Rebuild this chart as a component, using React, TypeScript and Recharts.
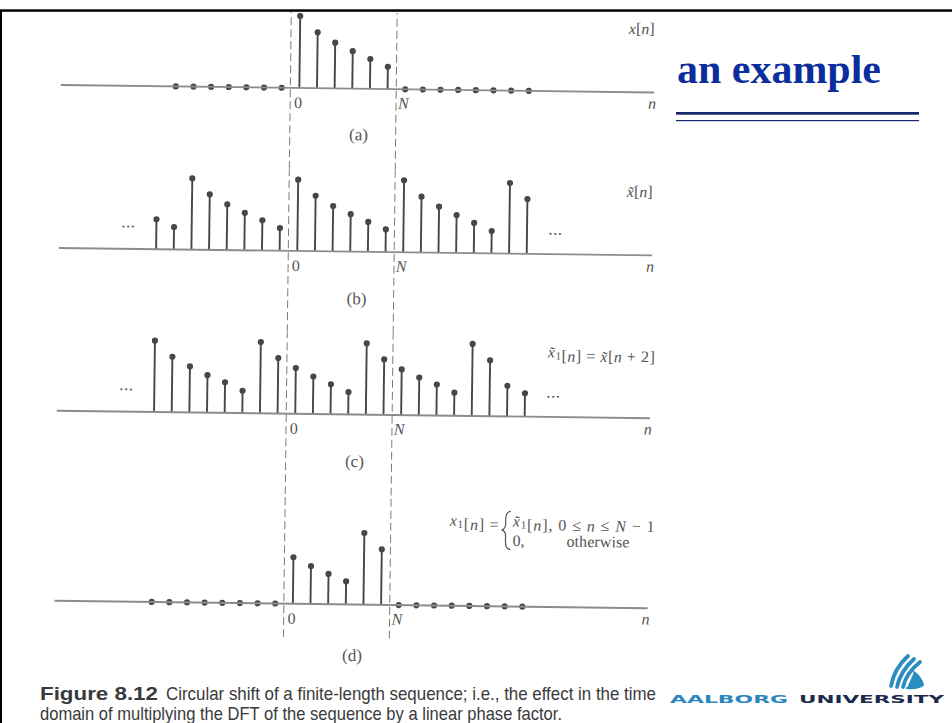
import React from "react";
import { BarChart, Bar, XAxis, YAxis, ReferenceLine } from "recharts";

// sample index n, one band per sample
const nAxis = [
  -13, -12, -11, -10, -9, -8, -7, -6, -5, -4, -3, -2, -1, 0, 1, 2, 3, 4, 5, 6,
  7, 8, 9, 10, 11, 12, 13, 14, 15, 16, 17, 18, 19, 20,
];

// (a) x[n], drawn from n = -7 to 13
const aStart = -7;
const aValues = [0, 0, 0, 0, 0, 0, 0, 10, 7.75, 6.35, 5.2, 4.15, 3.1, 0, 0, 0, 0, 0, 0, 0, 0];

// (b) periodic x~[n], n = -8 to 13
const bStart = -8;
const bValues = [
  4.15, 3.1, 9.9, 7.7, 6.35, 5.2, 4.2, 3.15, 9.9, 7.7, 6.3, 5.2, 4.15, 3.15, 10, 7.75, 6.4,
  5.25, 4.2, 3.1, 9.8, 7.6,
];

// (c) x~1[n] = x~[n+2], n = -8 to 13
const cStart = -8;
const cValues = [
  9.9, 7.7, 6.4, 5.2, 4.25, 3.1, 9.9, 7.7, 6.35, 5.2, 4.15, 3.1, 9.9, 7.7, 6.35, 5.25, 4.3,
  3.2, 10, 7.75, 4.25, 3.25,
];

// (d) x1[n], n = -8 to 13
const dStart = -8;
const dValues = [0, 0, 0, 0, 0, 0, 0, 0, 6.45, 5.25, 4.2, 3.2, 9.95, 7.7, 0, 0, 0, 0, 0, 0, 0, 0];

const STEM = "#474747";
const AXIS = "#8c8c8c";
const DASH = "#7a7a7a";
const TEXT = "#555";
const SERIF = "'Liberation Serif', 'Times New Roman', serif";

const STEP = 17.65; // px per sample
const N0 = 296; // centre of n = 0
const PX_PER_UNIT = 7.2;
const PLOT_RIGHT = 651;
const CHART_W = 660;

function Stem(props: any) {
  const { x, y, width, height, payload } = props;
  if (!payload || payload.v == null) return <g />;
  const cx = x + width / 2;
  return (
    <g>
      {height > 0.5 && (
        <line x1={cx} x2={cx} y1={y} y2={y + height} stroke={STEM} strokeWidth={1.9} />
      )}
      <circle cx={cx} cy={y} r={3.1} fill={STEM} />
    </g>
  );
}

type PanelProps = { start: number; values: number[]; top: number; base: number; bottom: number };

function StemPanel({ start, values, top, base, bottom }: PanelProps) {
  const rows = nAxis.map((n) => {
    const i = n - start;
    return { n, v: i >= 0 && i < values.length ? values[i] : null };
  });
  const left = N0 - (0 - nAxis[0] + 0.5) * STEP;
  const rangeRight = left + nAxis.length * STEP;
  return (
    <div style={{ position: "absolute", left: 0, top }}>
      <BarChart
        width={CHART_W}
        height={bottom - top}
        data={rows}
        margin={{ top: 0, right: CHART_W - PLOT_RIGHT, bottom: 0, left }}
        barCategoryGap={0}
      >
        <XAxis dataKey="n" hide padding={{ left: 0, right: -(rangeRight - PLOT_RIGHT) }} />
        <YAxis
          hide
          type="number"
          allowDataOverflow
          domain={[-(bottom - base) / PX_PER_UNIT, (base - top) / PX_PER_UNIT]}
        />
        <ReferenceLine y={0} stroke={AXIS} strokeWidth={1.9} />
        <ReferenceLine x={0} position="start" stroke={DASH} strokeDasharray="8 4" />
        <ReferenceLine x={6} position="start" stroke={DASH} strokeDasharray="8 4" />
        <Bar dataKey="v" barSize={2} isAnimationActive={false} shape={Stem} />
      </BarChart>
    </div>
  );
}

const panels = [
  { key: "a", start: aStart, values: aValues, top: 12, base: 88.5, bottom: 170, letterDy: 46, dots: false },
  { key: "b", start: bStart, values: bValues, top: 170, base: 251.5, bottom: 333, letterDy: 47, dots: true },
  { key: "c", start: cStart, values: cValues, top: 333, base: 414.3, bottom: 495, letterDy: 47, dots: true },
  { key: "d", start: dStart, values: dValues, top: 495, base: 604.3, bottom: 638, letterDy: 51, dots: false },
];

function Sub({ children }: { children: React.ReactNode }) {
  return (
    <>
      <tspan fontSize={11} dy={4} fontStyle="normal">
        {children}
      </tspan>
      <tspan dy={-4} />
    </>
  );
}

function FigureLabels() {
  const [a, b, c, d] = panels.map((p) => p.base);
  return (
    <svg width={952} height={723} style={{ position: "absolute", left: 0, top: 0 }}>
      <g fontFamily={SERIF} fontSize={16} fill={TEXT}>
        {panels.map((p) => (
          <g key={p.key}>
            <text x={291} y={p.base + 14.5} dominantBaseline="central">0</text>
            <text x={395} y={p.base + 14} dominantBaseline="central" fontStyle="italic">N</text>
            <text x={649} y={p.base + 11} dominantBaseline="central" textAnchor="middle" fontStyle="italic">n</text>
            <text x={356} y={p.base + p.letterDy} dominantBaseline="central" textAnchor="middle" fontSize={17}>
              ({p.key})
            </text>
            {p.dots && (
              <>
                <text x={127} y={p.base - 27} dominantBaseline="central" textAnchor="middle" fontSize={17} letterSpacing={0.5}>
                  ...
                </text>
                <text x={554} y={p.base - 25} dominantBaseline="central" textAnchor="middle" fontSize={17} letterSpacing={0.5}>
                  ...
                </text>
              </>
            )}
          </g>
        ))}
        <text x={625} y={a - 64} dominantBaseline="central">
          <tspan fontStyle="italic">x</tspan>[<tspan fontStyle="italic">n</tspan>]
        </text>
        <text x={625} y={b - 64} dominantBaseline="central">
          <tspan fontStyle="italic">x̃</tspan>[<tspan fontStyle="italic">n</tspan>]
        </text>
        <text x={548} y={c - 65.5} dominantBaseline="central" textLength={107} lengthAdjust="spacing">
          <tspan fontStyle="italic">x̃</tspan>
          <Sub>1</Sub>[<tspan fontStyle="italic">n</tspan>] = <tspan fontStyle="italic">x̃</tspan>[
          <tspan fontStyle="italic">n</tspan> + 2]
        </text>
        <text x={452} y={d - 86} dominantBaseline="central" textLength={49} lengthAdjust="spacing">
          <tspan fontStyle="italic">x</tspan>
          <Sub>1</Sub>[<tspan fontStyle="italic">n</tspan>] =
        </text>
        <path
          d={`M513 ${d - 95} C507 ${d - 95} 508 ${d - 87} 508 ${d - 83} C508 ${d - 78} 506 ${d - 77} 504 ${d - 76.5} C506 ${d - 76} 508 ${d - 75} 508 ${d - 70} C508 ${d - 66} 507 ${d - 57} 513 ${d - 57}`}
          fill="none"
          stroke={TEXT}
          strokeWidth={1.2}
        />
        <text x={515} y={d - 86} dominantBaseline="central" textLength={142} lengthAdjust="spacing">
          <tspan fontStyle="italic">x̃</tspan>
          <Sub>1</Sub>[<tspan fontStyle="italic">n</tspan>], 0 ≤ <tspan fontStyle="italic">n</tspan> ≤{" "}
          <tspan fontStyle="italic">N</tspan> − 1
        </text>
        <text x={515} y={d - 66} dominantBaseline="central">0,</text>
        <text x={569} y={d - 66} dominantBaseline="central" textLength={63} lengthAdjust="spacing">
          otherwise
        </text>
      </g>
    </svg>
  );
}

function Logo() {
  return (
    <g fill="none" stroke="#2a8dbf" strokeWidth={3.8} strokeLinecap="round">
      <path d="M891 686 C893 675 898 665 908 656" />
      <path d="M897 687 C899 677 904 668 914 659" />
      <path d="M903 687 C905 678 910 670 920 662" />
      <path d="M907 688 Q918 689 923 685 Q921 677 914 672" fill="#2a8dbf" strokeWidth={2} />
    </g>
  );
}

export default function App() {
  return (
    <div
      style={{
        position: "absolute",
        left: 0,
        top: 0,
        width: 952,
        height: 723,
        background: "#fff",
        overflow: "hidden",
      }}
    >
      <div
        style={{
          position: "absolute",
          left: 0,
          top: 0,
          width: 952,
          height: 723,
          transform: "rotate(0.72deg)",
          transformOrigin: "340px 340px",
        }}
      >
        {panels.map((p) => (
          <StemPanel key={p.key} start={p.start} values={p.values} top={p.top} base={p.base} bottom={p.bottom} />
        ))}
        <FigureLabels />
      </div>

      <svg width={952} height={723} style={{ position: "absolute", left: 0, top: 0 }}>
        <rect x={0} y={9.3} width={952} height={2.5} fill="#000" />
        <rect x={0} y={10} width={2} height={713} fill="#000" />
        <text
          x={677}
          y={83.3}
          fontFamily={SERIF}
          fontWeight="bold"
          fontSize={40}
          fill="#0c2e9c"
          textLength={204}
          lengthAdjust="spacingAndGlyphs"
        >
          an example
        </text>
        <rect x={676} y={112} width={243} height={2.7} fill="#16286a" />
        <rect x={676} y={120} width={243} height={1.2} fill="#16286a" />

        {/* narrow caption: smaller font stretched vertically */}
        <g
          transform="translate(0 700) scale(1 1.2)"
          fontFamily="'Liberation Sans Narrow', 'Liberation Sans', Arial, sans-serif"
          fontSize={15}
          fill="#3a3a3a"
        >
          <text x={40} y={0} fontWeight="bold" textLength={118} lengthAdjust="spacingAndGlyphs">
            Figure 8.12
          </text>
          <text x={166} y={0} textLength={490} lengthAdjust="spacingAndGlyphs">
            Circular shift of a finite-length sequence; i.e., the effect in the time
          </text>
          <text x={40} y={16.7} textLength={522} lengthAdjust="spacingAndGlyphs">
            domain of multiplying the DFT of the sequence by a linear phase factor.
          </text>
        </g>

        <g fontFamily="'DejaVu Sans', Verdana, sans-serif" fontWeight="bold" fontSize={11}>
          <text x={670} y={703} fill="#2a86bd" textLength={118} lengthAdjust="spacingAndGlyphs">
            AALBORG
          </text>
          <text x={799} y={703} fill="#1b2b4b" textLength={145} lengthAdjust="spacingAndGlyphs">
            UNIVERSITY
          </text>
        </g>
        <Logo />
      </svg>
    </div>
  );
}
